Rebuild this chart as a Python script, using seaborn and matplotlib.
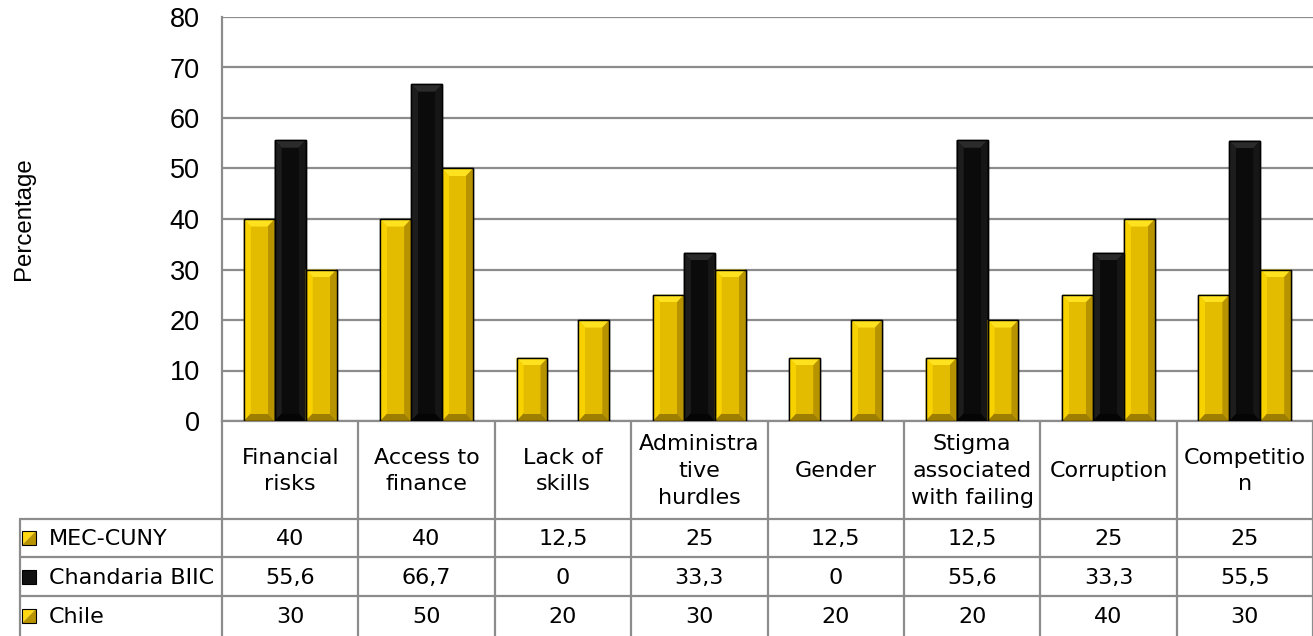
import pandas as pd
import numpy as np
import seaborn as sns
from matplotlib import pyplot as plt
from matplotlib import transforms
from matplotlib.patches import Polygon, Rectangle

categories = ["Financial\nrisks", "Access to\nfinance", "Lack of\nskills", "Administra\ntive\nhurdles",
              "Gender", "Stigma\nassociated\nwith failing", "Corruption", "Competitio\nn"]
series = ["MEC-CUNY", "Chandaria BIIC", "Chile"]
mec_cuny = [40, 40, 12.5, 25, 12.5, 12.5, 25, 25]
chandaria = [55.6, 66.7, 0, 33.3, 0, 55.6, 33.3, 55.5]
chile = [30, 50, 20, 30, 20, 20, 40, 30]
yticks = [0, 10, 20, 30, 40, 50, 60, 70, 80]

values = [mec_cuny, chandaria, chile]
df = pd.DataFrame({
    "category": categories * 3,
    "series": np.repeat(series, len(categories)),
    "value": mec_cuny + chandaria + chile,
})

sns.set_style("white")
plt.rcParams['font.family'] = ['Liberation Sans', 'DejaVu Sans']
plt.rcParams['text.color'] = 'black'
plt.rcParams['axes.labelcolor'] = 'black'
plt.rcParams['ytick.color'] = 'black'

W, H = 1313, 636
fig = plt.figure(figsize=(W / 100, H / 100), dpi=100)
ax = fig.add_axes([222 / W, 215 / H, 1091 / W, 404 / H])

yellow = "#E6BF00"
black = "#0d0d0d"
pal = {"MEC-CUNY": yellow, "Chandaria BIIC": black, "Chile": yellow}
sns.barplot(data=df, x="category", y="value", hue="series", order=categories,
            hue_order=series, palette=pal, width=0.68, legend=False,
            edgecolor="black", linewidth=1, saturation=1, ax=ax, zorder=3)

ax.set_xlim(-0.5, 7.5)
ax.set_ylim(0, 80)
ax.set_yticks(yticks)
ax.set_yticklabels([str(t) for t in yticks], fontsize=19.5, color="black")
ax.tick_params(axis='y', length=0, pad=16)
ax.set_xticks([])
ax.set_xlabel("")
ax.set_ylabel("Percentage", fontsize=17.3, color="black")
ax.yaxis.set_label_coords(-0.171, 0.5)
grid_c = "#8c8c8c"
ax.grid(axis='y', color=grid_c, lw=1.6, zorder=0)
ax.set_axisbelow(True)
for s in ["top", "right"]:
    ax.spines[s].set_visible(False)
for s in ["left", "bottom"]:
    ax.spines[s].set_color(grid_c)
    ax.spines[s].set_linewidth(1.6)

# bevel effect on bars, built from the bar patches
bx = 7 / 136.4
by = 7.5 / 5.05
for p in list(ax.patches):
    h = p.get_height()
    if h <= 0:
        continue
    x0 = p.get_x()
    x1 = x0 + p.get_width()
    y1 = h
    dark = sum(p.get_facecolor()[:3]) < 0.5
    if dark:
        cols = {"top": "#2b2b2b", "left": "#1d1d1d", "face": "#0b0b0b", "right": "#161616", "bot": "#050505"}
    else:
        cols = {"top": "#FFE21F", "left": "#F7D200", "face": "#E3BC00", "right": "#B89300", "bot": "#9E7E00"}
    polys = [
        ("top", [(x0, y1), (x1, y1), (x1 - bx, y1 - by), (x0 + bx, y1 - by)]),
        ("left", [(x0, 0), (x0, y1), (x0 + bx, y1 - by), (x0 + bx, by)]),
        ("right", [(x1, 0), (x1, y1), (x1 - bx, y1 - by), (x1 - bx, by)]),
        ("bot", [(x0, 0), (x1, 0), (x1 - bx, by), (x0 + bx, by)]),
        ("face", [(x0 + bx, by), (x1 - bx, by), (x1 - bx, y1 - by), (x0 + bx, y1 - by)]),
    ]
    for key, pts in polys:
        ax.add_patch(Polygon(pts, closed=True, facecolor=cols[key], edgecolor="none", zorder=4))
    ax.add_patch(Rectangle((x0, 0), x1 - x0, y1, facecolor="none", edgecolor="black", lw=1, zorder=5))

# data table below the chart
tab = fig.add_axes([0, 0, 1, 1], facecolor="none")
tab.set_xlim(0, W)
tab.set_ylim(H, 0)
tab.axis("off")
bt = transforms.blended_transform_factory(ax.transData, tab.transData)
tfont = ['DejaVu Sans']
tsize = 16

header_top, header_bot = 421, 519
row_lines = [519, 557, 596, 636]
for i in range(len(categories) + 1):
    tab.plot([i - 0.5, i - 0.5], [header_top, H], color=grid_c, lw=1.6, transform=bt, clip_on=False)
for yl in row_lines[:-1]:
    tab.plot([20, W], [yl, yl], color=grid_c, lw=1.6)
tab.plot([20, 20], [row_lines[0], H], color=grid_c, lw=1.6)

for i, c in enumerate(categories):
    tab.text(i, (header_top + header_bot) / 2 + 1, c, ha="center", va="center", fontsize=tsize,
             family=tfont, linespacing=1.42, color="black", transform=bt)

for r, name in enumerate(series):
    yc = (row_lines[r] + row_lines[r + 1]) / 2
    k0, k1 = 22, 36
    if name == "Chandaria BIIC":
        tab.add_patch(Rectangle((k0, yc - 7), 14, 14, facecolor="#111111", edgecolor="black", lw=0.8))
    else:
        tab.add_patch(Polygon([(k0, yc - 7), (k1, yc - 7), (k0, yc + 7)], facecolor="#FFD814", edgecolor="none"))
        tab.add_patch(Polygon([(k1, yc - 7), (k1, yc + 7), (k0, yc + 7)], facecolor="#B89300", edgecolor="none"))
        tab.add_patch(Rectangle((k0, yc - 7), 14, 14, facecolor="none", edgecolor="black", lw=0.8))
    tab.text(49, yc + 1, name, ha="left", va="center", fontsize=tsize, family=tfont, color="black")
    for i, v in enumerate(values[r]):
        tab.text(i, yc + 1, f"{v:g}".replace(".", ","), ha="center", va="center",
                 fontsize=tsize, family=tfont, color="black", transform=bt)

fig.savefig("out.png", dpi=100)
